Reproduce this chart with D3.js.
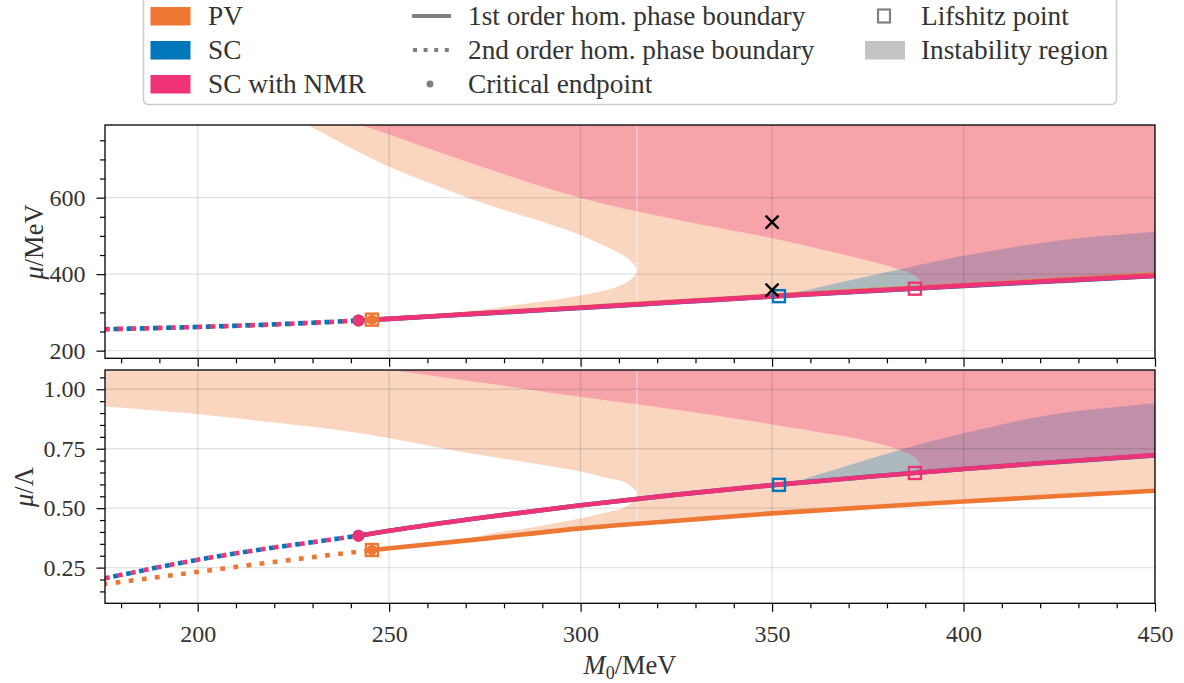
<!DOCTYPE html>
<html><head><meta charset="utf-8">
<script src="https://cdn.jsdelivr.net/npm/d3@7"></script>
<style>
body{margin:0;background:#fff}
svg{display:block}
text{font-family:"Liberation Serif","DejaVu Serif",serif;fill:#333}
</style>
</head><body><svg id="c" width="1184" height="683"></svg>
<script>
// ---------------- data ----------------
const xDomain=[175.8,450];
const xMajor=[200,250,300,350,400,450];
const yTopMajor=[200,400,600];
const yBotMajor=[0.25,0.5,0.75,1.0];

// 2nd order (dotted) hom. phase boundary
const dotM0SC=[175.8,200,218,230,242];
const dotMuTopSC=[256,262,268,273,279];
const dotMuTopNMR=[256,262,268,273,279];
const dotMuBotSC=[0.205,0.283,0.330,0.357,0.384];
const dotMuBotNMR=[0.205,0.283,0.330,0.357,0.384];
const dotM0PV=[175.8,200,220,245.5];
const dotMuTopPV=[256,262,268,281];
const dotMuBotPV=[0.181,0.232,0.274,0.324];

// 1st order (solid) hom. phase boundary
const solM0SC=[242,250,275,300,325,350,375,400,425,450];
const solMuTopSC=[279,283,297.5,311.5,326.5,341.5,355.5,369,382,395];
const solMuTopNMR=[279,283,298,312,327,342,356,370,383,396];
const solMuBotSC=[0.384,0.405,0.462,0.512,0.557,0.597,0.632,0.665,0.694,0.722];
const solMuBotNMR=[0.384,0.405,0.462,0.512,0.557,0.597,0.632,0.665,0.695,0.723];
const solM0PV=[245.5,275,300,325,350,375,400,425,450];
const solMuTopPV=[281,298.5,313,328.5,343.5,357.5,371,385,399];
const solMuBotPV=[0.324,0.372,0.415,0.447,0.478,0.504,0.528,0.551,0.573];

// special points  (order: PV, SC, NMR)
const lifM0=[245.5,351.8,387.3];
const lifMuTop=[281,342.5,362];
const lifMuBot=[0.324,0.598,0.648];
const cepM0=[245.5,242,242];
const cepMuTop=[281,279,279];
const cepMuBot=[0.324,0.384,0.384];
const crossM0=[350,350];
const crossMuTop=[536,358.5];

// instability region boundaries
const pvBM0Top=[245.5,255,265,275,285,295,303,309,313,314.7,313.5,311,306,300,290,280,271,260,250,240,229,220];
const pvBMuTop=[281,288,298,308,322,336,350,365,385,410,430,450,475,502,537,568,598,640,681,730,789,836];
const nmrBM0Top=[387.3,388.5,388.6,387.5,384,378,365,350,325,300,275,250,240,230];
const nmrBMuTop=[362,372,382,395,410,428,460,494,543,599,678,765,800,840];
const scBM0Top=[351.8,356,364,374,384,400,425,450];
const scBMuTop=[343,352,370,392,414,448,488,511];

const pvBM0Bot=[245.5,260,271,277,286,300,306,312,314.8,312,306,300,285,268.5,242.4,220,200,175.8,165];
const pvBMuBot=[0.324,0.352,0.374,0.395,0.416,0.458,0.48,0.507,0.556,0.605,0.63,0.654,0.695,0.738,0.815,0.86,0.895,0.927,0.94];
const nmrBM0Bot=[387.3,388.6,387.5,383.4,373,360,350,330,314.6,299.8,275,251,240];
const nmrBMuBot=[0.648,0.675,0.71,0.745,0.79,0.826,0.852,0.902,0.937,0.969,1.026,1.081,1.11];
const scBM0Bot=[351.8,356,361.7,372,383.4,400,422.6,450];
const scBMuBot=[0.598,0.612,0.64,0.69,0.745,0.815,0.892,0.941];

const colors=["#EE7733","#0077BB","#EE3377"]; // PV, SC, SC with NMR
const pvTip=314.7;
const FONT='"Liberation Serif","DejaVu Serif",serif';

// ---------------- drawing ----------------
const svg=d3.select("#c");
const x=d3.scaleLinear().domain(xDomain).range([105,1155]);
const yT=d3.scaleLinear().domain([180,790]).range([358.3,125]);
const yB=d3.scaleLinear().domain([0.1,1.081]).range([603.3,370]);
const zip=(a,b)=>a.map((v,i)=>[v,b[i]]);
const interp=(ms,vs,m)=>d3.scaleLinear().domain(ms).range(vs)(m);
const defs=svg.append("defs");

function regionD(y,bM,bV,lM,lV,outer){
  const pts=bM.map((m,i)=>[x(m),y(bV[i])]);
  let d=d3.line().curve(d3.curveCatmullRom.alpha(0.5))(pts);
  const last=pts[pts.length-1];
  const yR=y(interp(lM,lV,450));
  if(outer==="top") d+=`L${last[0]},0L1300,0L1300,${yR}`;
  else d+=`L1300,${last[1]}L1300,${yR}`;
  const L=bM[0];
  lM.map((m,i)=>[m,lV[i]]).filter(p=>p[0]>L+0.05).reverse()
    .forEach(p=>{d+=`L${x(p[0])},${y(p[1])}`;});
  return d+"Z";
}

function panel(id,y,y0,y1,cfg){
  defs.append("clipPath").attr("id","clip"+id).append("rect")
    .attr("x",105).attr("y",y0).attr("width",1050).attr("height",y1-y0);
  const g=svg.append("g").attr("clip-path",`url(#clip${id})`);
  const regs=[
    regionD(y,cfg.pvB[0],cfg.pvB[1],solM0PV,cfg.pvL,"top"),
    regionD(y,cfg.scB[0],cfg.scB[1],solM0SC,cfg.scL,"right"),
    regionD(y,cfg.nmrB[0],cfg.nmrB[1],solM0SC,cfg.nmrL,"top")
  ];
  regs.forEach((d,i)=>g.append("path").attr("d",d).attr("fill",colors[i]).attr("fill-opacity",0.3));
  defs.append("clipPath").attr("id","pvc"+id).append("path").attr("d",regs[0]);
  g.append("g").attr("clip-path",`url(#pvc${id})`).append("line")
    .attr("x1",x(pvTip)).attr("x2",x(pvTip)).attr("y1",y0).attr("y2",y1)
    .attr("stroke","#fff").attr("stroke-opacity",0.45).attr("stroke-width",1.2);
  xMajor.forEach(v=>g.append("line").attr("x1",x(v)).attr("x2",x(v)).attr("y1",y0).attr("y2",y1)
    .attr("stroke","#000").attr("stroke-opacity",0.11).attr("stroke-width",1.4));
  cfg.yMajor.forEach(v=>g.append("line").attr("x1",105).attr("x2",1155).attr("y1",y(v)).attr("y2",y(v))
    .attr("stroke","#000").attr("stroke-opacity",0.11).attr("stroke-width",1.4));
  const lg=d3.line().x(d=>x(d[0])).y(d=>y(d[1])).curve(d3.curveMonotoneX);
  const dotted=[[dotM0PV,cfg.pvD,0,2.5],[dotM0SC,cfg.scD,1,4.8],[dotM0SC,cfg.nmrD,2,0]];
  dotted.forEach(([m,v,c,off])=>g.append("path").attr("d",lg(zip(m,v))).attr("fill","none")
    .attr("stroke",colors[c]).attr("stroke-width",4.6).attr("stroke-dasharray","4.8,8.4")
    .attr("stroke-dashoffset",off));
  const solid=[[solM0PV,cfg.pvL,0],[solM0SC,cfg.scL,1],[solM0SC,cfg.nmrL,2]];
  solid.forEach(([m,v,c])=>g.append("path").attr("d",lg(zip(m,v))).attr("fill","none")
    .attr("stroke",colors[c]).attr("stroke-width",4.6));
  cepM0.forEach((m,i)=>g.append("circle").attr("cx",x(m)).attr("cy",y(cfg.cep[i])).attr("r",i===0?5.2:6).attr("fill",colors[i]));
  lifM0.forEach((m,i)=>g.append("rect").attr("x",x(m)-6).attr("y",y(cfg.lif[i])-6).attr("width",12).attr("height",12)
    .attr("fill","none").attr("stroke",colors[i]).attr("stroke-width",2.4));
  if(cfg.cross){
    crossM0.forEach((m,i)=>{
      const cx=x(m),cy=y(cfg.cross[i]),s=6.5;
      g.append("path").attr("d",`M${cx-s},${cy-s}L${cx+s},${cy+s}M${cx-s},${cy+s}L${cx+s},${cy-s}`)
        .attr("stroke","#000").attr("stroke-width",2.4);
    });
  }
  const ax=svg.append("g");
  const left=ax.append("g").attr("transform","translate(105,0)")
    .call(d3.axisLeft(y).tickValues(cfg.yMajor).tickSize(8.5).tickPadding(11).tickFormat(cfg.yFmt));
  left.select(".domain").remove();
  const lm=ax.append("g").attr("transform","translate(105,0)")
    .call(d3.axisLeft(y).tickValues(cfg.yMinor).tickSize(5).tickFormat(""));
  lm.select(".domain").remove();
  const bot=ax.append("g").attr("transform",`translate(0,${y1})`)
    .call(d3.axisBottom(x).tickValues(xMajor).tickSize(8.5).tickPadding(8).tickFormat(cfg.xLabels?d3.format("d"):""));
  bot.select(".domain").remove();
  bot.selectAll("text").attr("dy",0).attr("y",38.7);
  const bm=ax.append("g").attr("transform",`translate(0,${y1})`)
    .call(d3.axisBottom(x).tickValues(d3.range(180,450,10).filter(v=>v%50!==0)).tickSize(5).tickFormat(""));
  bm.select(".domain").remove();
  ax.selectAll("g").attr("font-family",FONT).attr("font-size",24);
  ax.selectAll("text").attr("font-family",FONT).attr("font-size",24).style("fill","#333");
  ax.selectAll(".tick line").attr("stroke","#000").attr("stroke-width",1.2);
  svg.append("rect").attr("x",105).attr("y",y0).attr("width",1050).attr("height",y1-y0)
    .attr("fill","none").attr("stroke","#000").attr("stroke-width",1.3);
}

panel("T",yT,125,358.3,{
  pvB:[pvBM0Top,pvBMuTop],scB:[scBM0Top,scBMuTop],nmrB:[nmrBM0Top,nmrBMuTop],
  pvL:solMuTopPV,scL:solMuTopSC,nmrL:solMuTopNMR,
  pvD:dotMuTopPV,scD:dotMuTopSC,nmrD:dotMuTopNMR,
  cep:cepMuTop,lif:lifMuTop,cross:crossMuTop,
  yMajor:yTopMajor,yMinor:d3.range(250,800,50).filter(v=>v%200!==0),yFmt:d3.format("d"),xLabels:false
});
panel("B",yB,370,603.3,{
  pvB:[pvBM0Bot,pvBMuBot],scB:[scBM0Bot,scBMuBot],nmrB:[nmrBM0Bot,nmrBMuBot],
  pvL:solMuBotPV,scL:solMuBotSC,nmrL:solMuBotNMR,
  pvD:dotMuBotPV,scD:dotMuBotSC,nmrD:dotMuBotNMR,
  cep:cepMuBot,lif:lifMuBot,cross:null,
  yMajor:yBotMajor,yMinor:d3.range(3,22).map(k=>k*0.05).filter(v=>Math.abs(v*4-Math.round(v*4))>1e-6),
  yFmt:d3.format(".2f"),xLabels:true
});

// axis labels
const xl=svg.append("text").attr("x",630).attr("y",674).attr("text-anchor","middle").attr("font-size",26.5);
xl.append("tspan").attr("font-style","italic").text("M");
xl.append("tspan").attr("font-size",18).attr("dy",5).text("0");
xl.append("tspan").attr("dy",-5).text("/MeV");
const yl1=svg.append("text").attr("transform","translate(43,242) rotate(-90)").attr("text-anchor","middle").attr("font-size",26.5);
yl1.append("tspan").attr("font-style","italic").text("μ");
yl1.append("tspan").text("/MeV");
const yl2=svg.append("text").attr("transform","translate(33,487) rotate(-90)").attr("text-anchor","middle").attr("font-size",26.5);
yl2.append("tspan").attr("font-style","italic").text("μ");
yl2.append("tspan").text("/Λ");

// legend
const lgd=svg.append("g");
lgd.append("rect").attr("x",143.5).attr("y",-8).attr("width",973).attr("height",112.5).attr("rx",5)
  .attr("fill","#fff").attr("stroke","#ccc").attr("stroke-width",1.5);
const rowsY=[25,59,93];
const seriesNames=["PV","SC","SC with NMR"];
seriesNames.forEach((n,i)=>{
  lgd.append("rect").attr("x",150.5).attr("y",rowsY[i]-18).attr("width",40).attr("height",18.5).attr("fill",colors[i]);
  lgd.append("text").attr("x",208).attr("y",rowsY[i]).attr("font-size",27.3).text(n);
});
const styleNames=["1st order hom. phase boundary","2nd order hom. phase boundary","Critical endpoint"];
lgd.append("line").attr("x1",412).attr("x2",451).attr("y1",rowsY[0]-9).attr("y2",rowsY[0]-9)
  .attr("stroke","#808080").attr("stroke-width",4);
lgd.append("line").attr("x1",413).attr("x2",451).attr("y1",rowsY[1]-9).attr("y2",rowsY[1]-9)
  .attr("stroke","#808080").attr("stroke-width",4).attr("stroke-dasharray","4,6.6");
lgd.append("circle").attr("cx",430).attr("cy",rowsY[2]-9).attr("r",3.5).attr("fill","#808080");
styleNames.forEach((n,i)=>lgd.append("text").attr("x",468).attr("y",rowsY[i]).attr("font-size",27.3).text(n));
lgd.append("rect").attr("x",878).attr("y",rowsY[0]-15.5).attr("width",12).attr("height",13)
  .attr("fill","none").attr("stroke","#808080").attr("stroke-width",2.2);
lgd.append("rect").attr("x",865).attr("y",rowsY[1]-18).attr("width",40).attr("height",18.5).attr("fill","#c4c4c4");
lgd.append("text").attr("x",921).attr("y",rowsY[0]).attr("font-size",27.3).text("Lifshitz point");
lgd.append("text").attr("x",921).attr("y",rowsY[1]).attr("font-size",27.3).text("Instability region");
</script>
</body></html>
